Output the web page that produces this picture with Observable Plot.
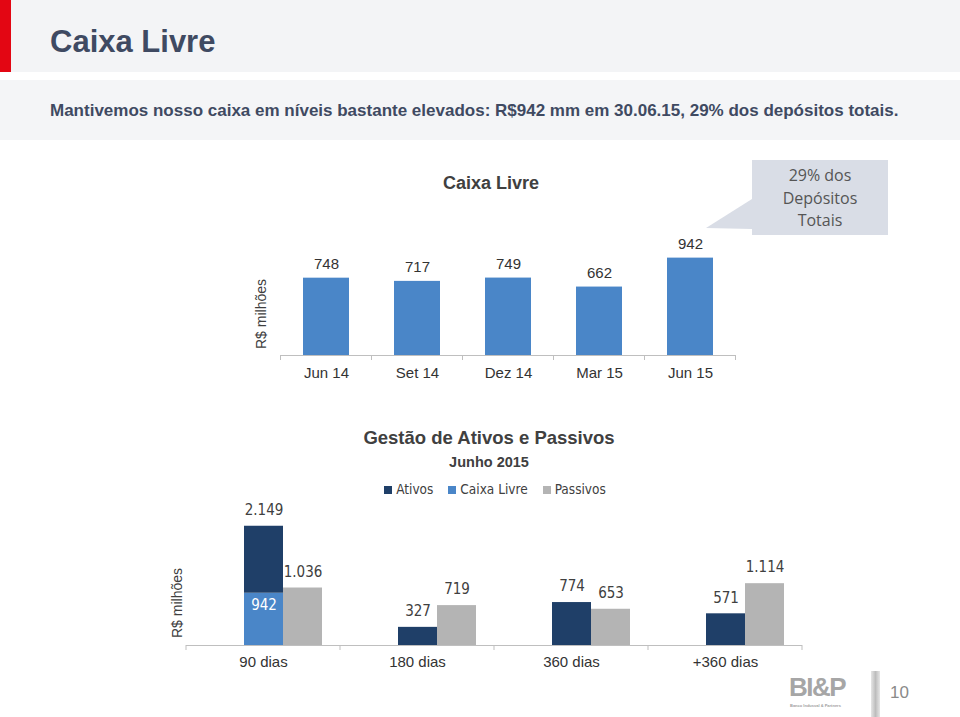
<!DOCTYPE html>
<html><head><meta charset="utf-8">
<script src="https://cdn.jsdelivr.net/npm/d3@7"></script>
<script src="https://cdn.jsdelivr.net/npm/@observablehq/plot@0.6"></script>
<style>
html,body{margin:0;padding:0;background:#fff;}
body{width:960px;height:717px;position:relative;overflow:hidden;font-family:"Liberation Sans",Arial,sans-serif;}
.abs{position:absolute;line-height:1;white-space:nowrap;}
#hdr{left:0;top:0;width:960px;height:72px;background:#f3f4f6;}
#hdr2{left:0;top:80px;width:960px;height:60px;background:#f4f5f7;}
#red{left:0;top:0;width:11px;height:72px;background:#e30613;}
#title{left:50px;top:25.5px;font-size:31px;font-weight:bold;color:#3f4a62;}
#subtitle{left:50px;top:101.5px;font-size:17px;font-weight:bold;color:#3f4a62;}
.ctitle{font-weight:bold;color:#404040;transform:translateX(-50%);}
.ylab{font-size:14px;color:#404040;transform:translate(-50%,-50%) rotate(-90deg);}
#callout{left:752px;top:160px;width:136px;height:75px;background:#d9dde6;}
.cl{font-family:"Open Sans",sans-serif;font-size:16px;color:#555;transform:translateX(-50%);}
#legend{left:0;top:483px;width:990px;text-align:center;font-family:"DejaVu Sans Condensed","DejaVu Sans",sans-serif;font-size:13.5px;color:#404040;}
#legend span.sw{display:inline-block;width:8px;height:8px;margin-right:4px;vertical-align:0px;}
#legend span.it{margin-right:15px;}
#legend span.it:last-child{margin-right:0;}
#chart1{left:0;top:150px;}
#chart2{left:0;top:500px;}
#logo{left:789px;top:676px;font-size:26px;line-height:22px;height:22px;font-weight:bold;color:#a6a6a6;letter-spacing:-1.5px;font-family:"Liberation Sans",sans-serif;}
#logosub{left:790px;top:704px;font-size:4px;color:#a0a0a0;font-weight:bold;}
#sep{left:871px;top:671px;width:9px;height:46px;background:linear-gradient(to right,#e6e6e6,#bdbdbd,#e6e6e6);}
#page{left:890px;top:684px;font-size:17px;color:#8a8a8a;}
</style></head>
<body>
<div id="hdr" class="abs"></div>
<div id="red" class="abs"></div>
<div id="hdr2" class="abs"></div>
<div id="title" class="abs">Caixa Livre</div>
<div id="subtitle" class="abs">Mantivemos nosso caixa em níveis bastante elevados: R$942 mm em 30.06.15, 29% dos depósitos totais.</div>

<div id="c1title" class="abs ctitle" style="left:491px;top:174px;font-size:18px;">Caixa Livre</div>
<svg class="abs" style="left:0;top:0" width="960" height="717"><polygon points="752,199 752,229 706,228" fill="#d9dde6"/></svg>
<div id="callout" class="abs"></div>
<div class="abs cl" style="left:820px;top:167px;">29% dos</div>
<div class="abs cl" style="left:820px;top:190px;">Depósitos</div>
<div class="abs cl" style="left:820px;top:212px;">Totais</div>
<div class="abs ylab" style="left:261px;top:314px;">R$ milhões</div>
<div id="chart1" class="abs"></div>

<div class="abs ctitle" style="left:489px;top:429px;font-size:18.5px;">Gestão de Ativos e Passivos</div>
<div class="abs ctitle" style="left:489px;top:455px;font-size:14.5px;">Junho 2015</div>
<div id="legend" class="abs"></div>
<div class="abs ylab" style="left:177px;top:603px;">R$ milhões</div>
<div id="chart2" class="abs"></div>

<div id="logo" class="abs">BI&amp;P</div>
<div id="logosub" class="abs">Banco Indusval &amp; Partners</div>
<div id="sep" class="abs"></div>
<div id="page" class="abs">10</div>

<script>
// ---- Chart 1 data ----
const periods = ["Jun 14", "Set 14", "Dez 14", "Mar 15", "Jun 15"];
const caixaLivreHist = [748, 717, 749, 662, 942];

// ---- Chart 2 data ----
const prazos = ["90 dias", "180 dias", "360 dias", "+360 dias"];
const ativos = [2149, 327, 774, 571];
const caixaLivre = [942, 0, 0, 0];
const passivos = [1036, 719, 653, 1114];
const seriesNames = ["Ativos", "Caixa Livre", "Passivos"];
const seriesColors = ["#1f3f68", "#4a86c8", "#b4b4b4"];

const ptBR = d3.formatLocale({decimal: ",", thousands: ".", grouping: [3], currency: ["R$", ""]});
const fmt = ptBR.format(",d");

function boundaryTicks(svg, xs, baseline, color) {
  const g = d3.select(svg).append("g").attr("stroke", color).attr("stroke-width", 1);
  xs.forEach(x => g.append("line").attr("x1", x).attr("x2", x).attr("y1", baseline).attr("y2", baseline + 5));
}

// ---- Chart 1 ----
const t1 = periods.map((p, i) => ({period: p, value: caixaLivreHist[i]}));
const W = 960;
const c1 = Plot.plot({
  width: W, height: 240,
  marginLeft: 280, marginRight: W - 736, marginTop: 0, marginBottom: 35,
  style: {fontFamily: "'Liberation Sans', Arial, sans-serif", fontSize: "15px", color: "#333", background: "transparent", overflow: "visible"},
  x: {domain: periods, paddingInner: 0.5, paddingOuter: 0.25, label: null},
  y: {domain: [0, 1983], axis: null},
  marks: [
    Plot.barY(t1, {x: "period", y: "value", fill: seriesColors[1]}),
    Plot.text(t1, {x: "period", y: "value", text: d => fmt(d.value), dy: -14, fontSize: 15, fill: "#333", fontFamily: "'Liberation Sans', Arial, sans-serif"}),
    Plot.ruleY([0], {stroke: "#bfbfbf"}),
    Plot.axisX({tickSize: 0, tickPadding: 12, fontSize: 15, fill: "#333", label: null, fontFamily: "'Liberation Sans', Arial, sans-serif"})
  ]
});
document.getElementById("chart1").appendChild(c1);
{
  const sx = c1.scale("x");
  const step = sx.step ?? sx.bandwidth / 0.5;
  const xs = periods.map(p => sx.apply(p) + sx.bandwidth / 2 - step / 2);
  xs.push(sx.apply(periods[periods.length - 1]) + sx.bandwidth / 2 + step / 2);
  boundaryTicks(c1, xs, 205, "#bfbfbf");
}

// ---- Chart 2 ----
const slots = ["", "Ativos", "Passivos"];
const t2 = [];
prazos.forEach((g, i) => {
  t2.push({prazo: g, slot: "Ativos", series: "Caixa Livre", value: caixaLivre[i]});
  t2.push({prazo: g, slot: "Ativos", series: "Ativos", value: ativos[i] - caixaLivre[i]});
  t2.push({prazo: g, slot: "Passivos", series: "Passivos", value: passivos[i]});
});
const totals = [];
prazos.forEach((g, i) => {
  totals.push({prazo: g, slot: "Ativos", value: ativos[i]});
  totals.push({prazo: g, slot: "Passivos", value: passivos[i]});
});
const inner = prazos.map((g, i) => ({prazo: g, slot: "Ativos", value: caixaLivre[i]})).filter(d => d.value > 0);
const lblFont = "'DejaVu Sans Condensed', 'DejaVu Sans', sans-serif";

const c2 = Plot.plot({
  width: W, height: 180,
  marginLeft: 185, marginRight: W - 803, marginTop: 0, marginBottom: 35,
  style: {fontFamily: "'Liberation Sans', Arial, sans-serif", fontSize: "15px", color: "#333", background: "transparent", overflow: "visible"},
  fx: {domain: prazos, padding: 0, label: null},
  x: {domain: slots, paddingInner: 0, paddingOuter: 0.4375, axis: null},
  y: {domain: [0, 2613], axis: null},
  color: {domain: seriesNames, range: seriesColors},
  marks: [
    Plot.barY(t2, {fx: "prazo", x: "slot", y: "value", fill: "series"}),
    Plot.text(totals, {fx: "prazo", x: "slot", y: "value", text: d => fmt(d.value), dy: -16, fontSize: 15, fill: "#404040", fontFamily: lblFont}),
    Plot.text(inner, {fx: "prazo", x: "slot", y: "value", text: d => fmt(d.value), dy: 12, fontSize: 15, fill: "#fff", fontFamily: lblFont}),
    Plot.ruleY([0], {stroke: "#bfbfbf"}),
    Plot.axisFx({anchor: "bottom", tickSize: 0, tickPadding: 11, fontSize: 15, fill: "#333", label: null})
  ]
});
document.getElementById("chart2").appendChild(c2);
{
  const fx = c2.scale("fx");
  const xs = prazos.map(p => fx.apply(p));
  xs.push(fx.apply(prazos[prazos.length - 1]) + fx.bandwidth);
  boundaryTicks(c2, xs, 145, "#bfbfbf");
}

// legend from the color scale
{
  const col = c2.scale("color");
  const lg = d3.select("#legend");
  col.domain.forEach((s, i) => {
    const it = lg.append("span").attr("class", "it");
    it.append("span").attr("class", "sw").style("background", col.apply(s));
    it.append("span").text(s);
  });
}
</script>
</body></html>
